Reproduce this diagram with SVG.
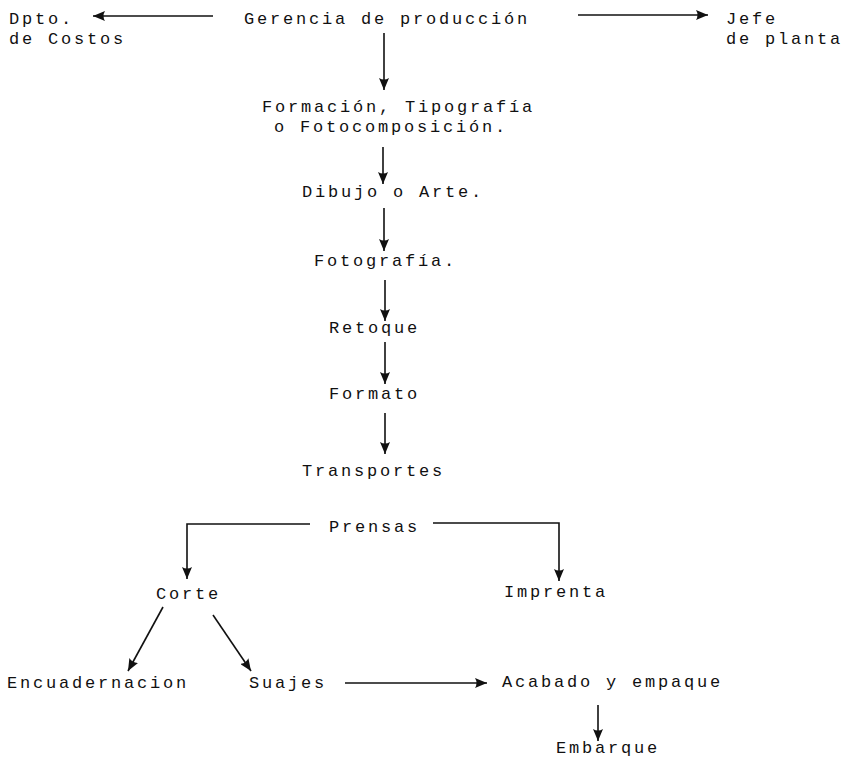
<svg xmlns="http://www.w3.org/2000/svg" width="848" height="757" viewBox="0 0 848 757">
  <style>
    text { font-family: "Liberation Mono", "DejaVu Sans Mono", monospace; font-size: 17px; letter-spacing: 2.8px; fill: #111111; }
    .edge { fill: none; stroke: #111111; stroke-width: 1.6; }
    .arrow { marker-end: url(#head); }
  </style>
  <defs>
    <marker id="head" viewBox="0 0 12 10" markerWidth="12" markerHeight="10" refX="12" refY="5" orient="auto" markerUnits="userSpaceOnUse">
      <path d="M0,0 L12,5 L0,10 Q3,5 0,0 z" fill="#111111"/>
    </marker>
  </defs>
  <rect width="848" height="757" fill="#ffffff"/>

  <g id="costos"><text x="9" y="24">Dpto.</text><text x="9" y="44">de Costos</text></g>
  <g id="gerencia"><text x="244" y="24">Gerencia de producción</text></g>
  <g id="jefe"><text x="726" y="24">Jefe</text><text x="726" y="44">de planta</text></g>
  <g id="formacion"><text x="262" y="112">Formación, Tipografía</text><text x="274" y="132">o Fotocomposición.</text></g>
  <g id="dibujo"><text x="302" y="197">Dibujo o Arte.</text></g>
  <g id="fotografia"><text x="314" y="266">Fotografía.</text></g>
  <g id="retoque"><text x="329" y="333">Retoque</text></g>
  <g id="formato"><text x="329" y="399">Formato</text></g>
  <g id="transportes"><text x="302" y="476">Transportes</text></g>
  <g id="prensas"><text x="329" y="532">Prensas</text></g>
  <g id="corte"><text x="156" y="599">Corte</text></g>
  <g id="imprenta"><text x="504" y="597">Imprenta</text></g>
  <g id="encuadernacion"><text x="7" y="688">Encuadernacion</text></g>
  <g id="suajes"><text x="249" y="688">Suajes</text></g>
  <g id="acabado"><text x="502" y="687">Acabado y empaque</text></g>
  <g id="embarque"><text x="556" y="753">Embarque</text></g>

  <g id="connectors">
    <line class="edge arrow" x1="213" y1="16" x2="93" y2="16"/>
    <line class="edge arrow" x1="578" y1="15" x2="708" y2="15"/>
    <line class="edge arrow" x1="384" y1="33" x2="384" y2="90"/>
    <line class="edge arrow" x1="383" y1="147" x2="383" y2="184"/>
    <line class="edge arrow" x1="384" y1="208" x2="384" y2="251"/>
    <line class="edge arrow" x1="385" y1="280" x2="385" y2="321"/>
    <line class="edge arrow" x1="385" y1="342" x2="385" y2="384"/>
    <line class="edge arrow" x1="385" y1="413" x2="385" y2="454"/>
    <polyline class="edge arrow" points="310,524 187,524 187,579"/>
    <polyline class="edge arrow" points="433,523 559,523 559,581"/>
    <line class="edge arrow" x1="163" y1="607" x2="128" y2="671"/>
    <line class="edge arrow" x1="213" y1="615" x2="251" y2="671"/>
    <line class="edge arrow" x1="345" y1="683" x2="487" y2="683"/>
    <line class="edge arrow" x1="598" y1="705" x2="598" y2="741"/>
  </g>
</svg>
